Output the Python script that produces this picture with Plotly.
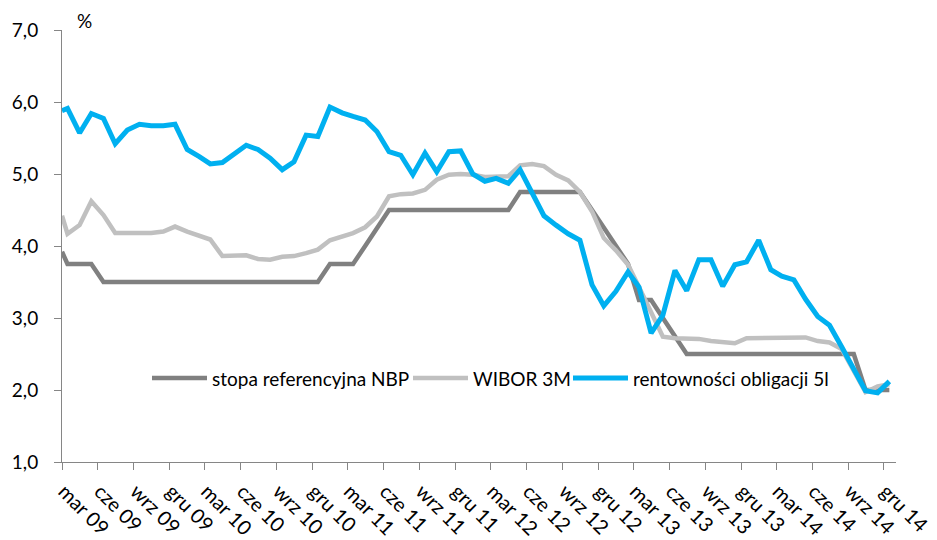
import plotly.graph_objects as go

# ---------------- data ----------------
# month-centre dates (mid-month) from Mar 2009 to Dec 2014, preceded by the start-of-period point
month_dates = ["2009-03-01"] + [
    f"{2009 + (m + 2) // 12}-{(m + 2) % 12 + 1:02d}-15" for m in range(70)
]

stopa_nbp = [3.92,
    3.75, 3.75, 3.75, 3.50, 3.50, 3.50, 3.50, 3.50, 3.50, 3.50,   # mar09-gru09
    3.50, 3.50, 3.50, 3.50, 3.50, 3.50, 3.50, 3.50, 3.50, 3.50, 3.50, 3.50,  # 2010
    3.75, 3.75, 3.75, 4.00, 4.25, 4.50, 4.50, 4.50, 4.50, 4.50, 4.50, 4.50,  # 2011
    4.50, 4.50, 4.50, 4.50, 4.75, 4.75, 4.75, 4.75, 4.75, 4.75, 4.50, 4.25,  # 2012
    4.00, 3.75, 3.25, 3.25, 3.00, 2.75, 2.50, 2.50, 2.50, 2.50, 2.50, 2.50,  # 2013
    2.50, 2.50, 2.50, 2.50, 2.50, 2.50, 2.50, 2.50, 2.50, 2.00, 2.00, 2.00,  # 2014
]

wibor_3m = [4.42,
    4.17, 4.29, 4.62, 4.43, 4.18, 4.18, 4.18, 4.18, 4.20, 4.27,
    4.20, 4.15, 4.09, 3.86, 3.87, 3.87, 3.82, 3.81, 3.85, 3.86, 3.90, 3.95,
    4.08, 4.14, 4.18, 4.26, 4.41, 4.69, 4.72, 4.73, 4.78, 4.92, 4.99, 5.00,
    4.99, 4.96, 4.96, 4.97, 5.12, 5.14, 5.11, 4.99, 4.91, 4.75, 4.48, 4.11,
    3.94, 3.74, 3.43, 3.07, 2.74, 2.72, 2.72, 2.71, 2.68, 2.67, 2.65, 2.72,
    2.72, 2.72, 2.72, 2.73, 2.73, 2.68, 2.66, 2.57, 2.28, 1.97, 2.05, 2.08,
]

rentownosc_5l = [5.88,
    5.91, 5.57, 5.84, 5.77, 5.42, 5.61, 5.69, 5.67, 5.67, 5.69,
    5.34, 5.24, 5.14, 5.16, 5.28, 5.40, 5.34, 5.22, 5.06, 5.17, 5.54, 5.52,
    5.93, 5.85, 5.80, 5.75, 5.59, 5.31, 5.26, 4.99, 5.29, 5.03, 5.31, 5.32,
    5.00, 4.90, 4.94, 4.87, 5.06, 4.73, 4.42, 4.29, 4.17, 4.08, 3.46, 3.17,
    3.37, 3.64, 3.43, 2.79, 3.04, 3.66, 3.38, 3.81, 3.81, 3.44, 3.74, 3.78,
    4.08, 3.67, 3.58, 3.53, 3.26, 3.02, 2.90, 2.60, 2.30, 1.99, 1.96, 2.12,
]

series_names = ["stopa referencyjna NBP", "WIBOR 3M", "rentowności obligacji 5l"]

tick_labels = [
    "mar 09", "cze 09", "wrz 09", "gru 09",
    "mar 10", "cze 10", "wrz 10", "gru 10",
    "mar 11", "cze 11", "wrz 11", "gru 11",
    "mar 12", "cze 12", "wrz 12", "gru 12",
    "mar 13", "cze 13", "wrz 13", "gru 13",
    "mar 14", "cze 14", "wrz 14", "gru 14",
]
tick_dates = [f"{2009 + (3 * i + 2) // 12}-{(3 * i + 2) % 12 + 1:02d}-01" for i in range(24)]

# ---------------- styling ----------------
# the page body adds an 8px offset, so the figure is sized to fill the rest of the window
OFF = 8
W, H = 937 - OFF, 540 - OFF
L, R, T, B = 62 - OFF, 41, 30 - OFF, 78
FONT = "Lato, 'Open Sans', sans-serif"
FS = 19
colors = ["#808080", "#C0C0C0", "#00B0F0"]
widths = [4.5, 4.5, 5]
AXIS_COL = "#868686"

fig = go.Figure()
for name, vals, c, w in zip(series_names, [stopa_nbp, wibor_3m, rentownosc_5l], colors, widths):
    fig.add_trace(go.Scatter(x=month_dates, y=vals, mode="lines", name=name,
                             line=dict(color=c, width=w), showlegend=False,
                             hoverinfo="x+y+name"))

pw, ph = W - L - R, H - T - B
def px_x(px):  # window pixel -> paper
    return (px - OFF - L) / pw
def px_y(py):
    return (H - B - (py - OFF)) / ph

# manual legend (long line samples like the original)
legend_items = [(152, 207, 211), (413, 468, 472), (573, 628, 632)]
shapes, annotations = [], []
for (x0, x1, tx), name, c, w in zip(legend_items, series_names, colors, widths):
    shapes.append(dict(type="line", xref="paper", yref="paper",
                       x0=px_x(x0), x1=px_x(x1), y0=px_y(378), y1=px_y(378),
                       line=dict(color=c, width=w)))
    annotations.append(dict(text=name, xref="paper", yref="paper",
                            x=px_x(tx), y=px_y(378), xanchor="left", yanchor="middle",
                            showarrow=False, font=dict(family=FONT, size=FS, color="#000000"),
                            borderpad=0))
annotations.append(dict(text="%", xref="paper", yref="paper", x=px_x(76), y=px_y(20),
                        xanchor="left", yanchor="middle", showarrow=False,
                        font=dict(family=FONT, size=FS, color="#000000"), borderpad=0))

fig.update_layout(
    width=W, height=H,
    margin=dict(l=L, r=R, t=T, b=B, pad=0, autoexpand=False),
    paper_bgcolor="white", plot_bgcolor="white",
    separators=", ",
    font=dict(family=FONT, size=FS, color="#000000"),
    shapes=shapes, annotations=annotations,
    xaxis=dict(type="date", range=["2009-03-01", "2015-01-01"], automargin=False,
               tickvals=tick_dates, ticktext=tick_labels, tickangle=45,
               ticklabelshift=2, ticklabelstandoff=2, ticklabeloverflow="allow",
               showgrid=False, zeroline=False, showline=True, linecolor=AXIS_COL, linewidth=1,
               ticks="outside", ticklen=7, tickcolor=AXIS_COL, tickwidth=1,
               tickfont=dict(family=FONT, size=20, color="#000000")),
    yaxis=dict(range=[1, 7], tickvals=[1, 2, 3, 4, 5, 6, 7], tickformat=".1f", automargin=False,
               showgrid=False, zeroline=False, showline=True, linecolor=AXIS_COL, linewidth=1,
               ticks="outside", ticklen=7, tickcolor=AXIS_COL, tickwidth=1,
               ticklabelstandoff=12,
               tickfont=dict(family=FONT, size=FS, color="#000000")),
)

fig.write_html("out.html")
